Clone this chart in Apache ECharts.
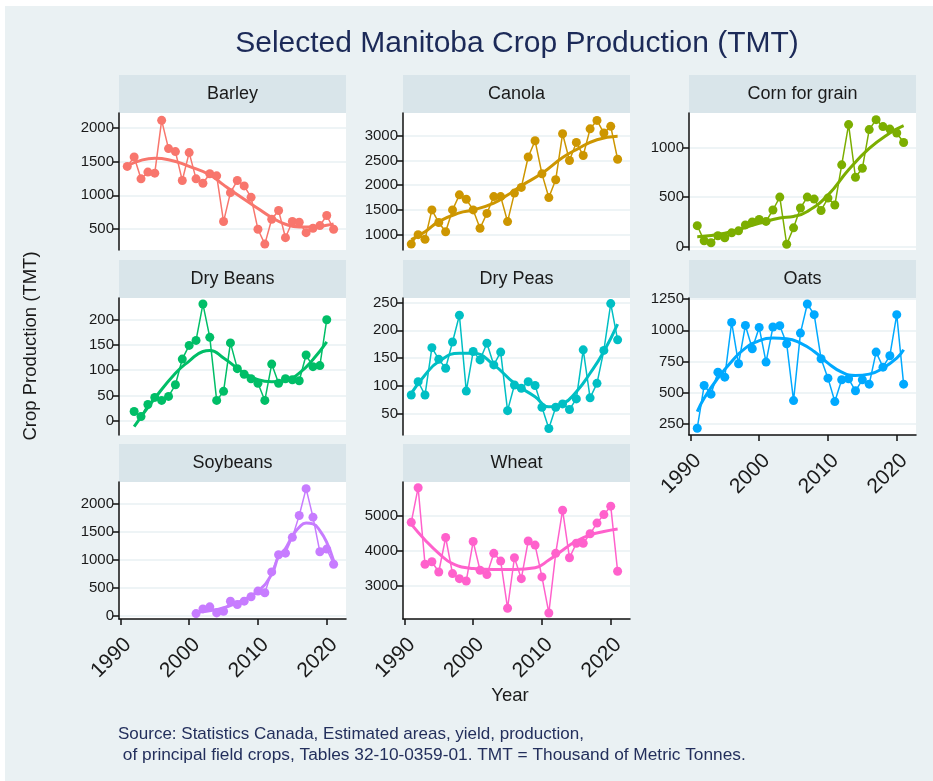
<!DOCTYPE html>
<html>
<head>
<meta charset="utf-8">
<title>Selected Manitoba Crop Production (TMT)</title>
<script src="https://cdn.jsdelivr.net/npm/echarts@6.0.0/dist/echarts.min.js"></script>
<style>
html, body { margin: 0; padding: 0; background: #fff; }
#main { width: 933px; height: 781px; }
</style>
</head>
<body>
<div id="main"></div>
<script>
// facet order, left to right, top to bottom
const crops = ['Barley', 'Canola', 'Corn for grain', 'Dry Beans', 'Dry Peas', 'Oats', 'Soybeans', 'Wheat'];
const cropColors = ['#F8766D', '#CD9600', '#7CAE00', '#00BE67', '#00BFC4', '#00A9FF', '#C77CFF', '#FF61CC'];

const years = [1991, 1992, 1993, 1994, 1995, 1996, 1997, 1998, 1999, 2000, 2001, 2002, 2003, 2004, 2005, 2006,
  2007, 2008, 2009, 2010, 2011, 2012, 2013, 2014, 2015, 2016, 2017, 2018, 2019, 2020, 2021];
const beanYears = [1992, 1993, 1994, 1995, 1996, 1997, 1998, 1999, 2000, 2001, 2002, 2003, 2004, 2005, 2006,
  2007, 2008, 2009, 2010, 2011, 2012, 2013, 2014, 2015, 2016, 2017, 2018, 2019, 2020];
const soyYears = [2001, 2002, 2003, 2004, 2005, 2006, 2007, 2008, 2009, 2010, 2011, 2012, 2013, 2014, 2015, 2016,
  2017, 2018, 2019, 2020, 2021];

// production, thousand tonnes
const barley = [1430, 1570, 1245, 1345, 1330, 2115, 1695, 1650, 1220, 1635, 1245, 1180, 1320, 1290, 610, 1040,
  1220, 1140, 970, 495, 275, 645, 775, 370, 610, 600, 445, 510, 550, 700, 495];
const canola = [810, 1000, 905, 1500, 1245, 1060, 1500, 1805, 1715, 1500, 1130, 1430, 1770, 1770, 1265, 1840,
  1955, 2570, 2900, 2230, 1750, 2110, 3040, 2500, 2865, 2600, 3140, 3310, 3055, 3190, 2525];
const corn = [212, 60, 40, 110, 90, 140, 160, 220, 250, 275, 255, 370, 500, 25, 190, 390,
  500, 480, 365, 490, 420, 825, 1230, 700, 790, 1180, 1280, 1210, 1185, 1145, 1050];
const dryBeans = [18, 8, 32, 46, 40, 48, 71, 122, 149, 159, 231, 165, 40, 58, 154,
  103, 92, 83, 74, 40, 112, 74, 83, 81, 79, 130, 107, 109, 200];
const dryPeas = [84, 108, 84, 169, 148, 132, 179, 227, 91, 162, 147, 177, 138, 161, 56, 102,
  96, 108, 101, 62, 24, 62, 68, 58, 77, 165, 79, 105, 164, 248, 183];
const oats = [218, 559, 490, 666, 626, 1063, 733, 1039, 853, 1023, 746, 1026, 1037, 893, 439, 978,
  1210, 1125, 773, 618, 431, 605, 613, 517, 605, 570, 826, 706, 797, 1125, 570];
const soybeans = [36, 120, 156, 48, 78, 258, 198, 258, 336, 438, 408, 781, 1087, 1117, 1399, 1790,
  2270, 1760, 1141, 1189, 919];
const wheat = [4810, 5795, 3620, 3690, 3400, 4380, 3355, 3210, 3145, 4265, 3450, 3325, 3930, 3710, 2370, 3805,
  3210, 4280, 4165, 3260, 2235, 3930, 5155, 3805, 4215, 4215, 4485, 4790, 5030, 5270, 3420];

// smoothed trend
const barleyTrend = [[1991, 1440], [1993, 1520], [1995, 1550], [1997, 1530], [2000, 1430], [2003, 1305], [2005, 1155],
  [2008, 940], [2010, 805], [2012, 670], [2014, 570], [2016, 530], [2018, 530], [2020, 555], [2021, 575]];
const canolaTrend = [[1991, 900], [1993, 1060], [1995, 1265], [1998, 1440], [2000, 1500], [2003, 1640], [2005, 1800],
  [2007, 1990], [2010, 2240], [2013, 2560], [2015, 2720], [2018, 2920], [2021, 2990]];
const cornTrend = [[1991, 100], [1995, 135], [2000, 235], [2003, 290], [2005, 305], [2007, 355], [2010, 520],
  [2013, 775], [2016, 990], [2019, 1145], [2021, 1220]];
const dryBeansTrend = [[1992, -12], [1995, 44], [1998, 94], [2000, 118], [2002, 137], [2003, 139], [2005, 124],
  [2008, 94], [2010, 81], [2012, 77], [2014, 79], [2016, 94], [2018, 121], [2020, 156]];
const dryPeasTrend = [[1991, 87], [1993, 120], [1995, 144], [1998, 159], [2000, 159], [2003, 138], [2006, 105],
  [2009, 81], [2011, 63], [2013, 68], [2015, 90], [2017, 123], [2019, 162], [2021, 211]];
const oatsTrend = [[1991, 351], [1992, 458], [1994, 618], [1996, 751], [1998, 858], [2000, 917], [2002, 938],
  [2004, 933], [2006, 898], [2008, 831], [2010, 738], [2012, 666], [2014, 639], [2016, 650], [2018, 698],
  [2020, 778], [2021, 845]];
const soybeansTrend = [[2001, 60], [2004, 108], [2007, 228], [2010, 438], [2012, 740], [2013, 1060], [2014, 1200],
  [2015, 1420], [2016, 1580], [2017, 1658], [2018, 1640], [2019, 1520], [2020, 1310], [2021, 980]];
const wheatTrend = [[1991, 4760], [1993, 4310], [1995, 3930], [1997, 3640], [2000, 3500], [2003, 3470], [2006, 3470],
  [2009, 3520], [2011, 3740], [2013, 4020], [2015, 4280], [2017, 4455], [2019, 4550], [2021, 4620]];

// free y scales
const yMins = [187, 690, -33, -28.5, 12.3, 164, -61, 2064];
const yMaxs = [2224, 3460, 1347, 243, 258, 1258, 2389, 5957];
const yTicks = [
  [500, 1000, 1500, 2000],
  [1000, 1500, 2000, 2500, 3000],
  [0, 500, 1000],
  [0, 50, 100, 150, 200],
  [50, 100, 150, 200, 250],
  [250, 500, 750, 1000, 1250],
  [0, 500, 1000, 1500, 2000],
  [3000, 4000, 5000]
];
const xTicks = [1990, 2000, 2010, 2020];

const caption1 = 'Source: Statistics Canada, Estimated areas, yield, production,';
const caption2 = ' of principal field crops, Tables 32-10-0359-01. TMT = Thousand of Metric Tonnes.';

const panelX = [119, 403, 689];
const panelY = [113, 298, 482];
const panelW = 227, panelH = 137, stripH = 38;
const font = "'Liberation Sans', Arial, sans-serif";
const ink = '#1a1a1a';

const points = [
  [years, barley], [years, canola], [years, corn], [beanYears, dryBeans],
  [years, dryPeas], [years, oats], [soyYears, soybeans], [years, wheat]
];
const trends = [barleyTrend, canolaTrend, cornTrend, dryBeansTrend, dryPeasTrend, oatsTrend, soybeansTrend, wheatTrend];
const withX = [5, 6, 7];

const chart = echarts.init(document.getElementById('main'));

const grids = [], xAxes = [], yAxes = [], series = [];
const graphics = [
  { type: 'rect', z: -10, shape: { x: 5, y: 6, width: 928, height: 775 }, style: { fill: '#eaf1f3' } },
  { type: 'text', x: 517, y: 44, style: { text: 'Selected Manitoba Crop Production (TMT)', font: '30px ' + font,
      fill: '#1c2a58', textAlign: 'center', textVerticalAlign: 'middle' } },
  { type: 'text', x: 31, y: 346, rotation: Math.PI / 2, style: { text: 'Crop Production (TMT)', font: '18.5px ' + font,
      fill: ink, textAlign: 'center', textVerticalAlign: 'middle' } },
  { type: 'text', x: 510, y: 696, style: { text: 'Year', font: '18.5px ' + font, fill: ink,
      textAlign: 'center', textVerticalAlign: 'middle' } },
  { type: 'text', x: 118, y: 734, style: { text: caption1, font: '17px ' + font, fill: '#232f5c',
      textVerticalAlign: 'middle' } },
  { type: 'text', x: 118, y: 755, style: { text: caption2, font: '17.3px ' + font, fill: '#232f5c',
      textVerticalAlign: 'middle' } }
];

function plain(v) { return String(v); }

crops.forEach(function (name, i) {
  const col = i % 3, row = Math.floor(i / 3);
  const left = panelX[col], top = panelY[row];
  const showX = withX.indexOf(i) >= 0;

  grids.push({ left: left, top: top, width: panelW, height: panelH, show: true,
    backgroundColor: '#fff', borderWidth: 0, outerBoundsMode: 'none' });

  graphics.push({ type: 'rect', shape: { x: left, y: top - stripH, width: panelW, height: stripH },
    style: { fill: '#d9e5ea' } });
  graphics.push({ type: 'text', x: left + panelW / 2, y: top - stripH / 2, style: { text: name,
    font: '18px ' + font, fill: ink, textAlign: 'center', textVerticalAlign: 'middle' } });

  xAxes.push({
    type: 'value', gridIndex: i, min: 1989.8, max: 2022.8,
    axisLine: { show: showX, onZero: false, lineStyle: { color: '#111', width: 1.5 } },
    axisTick: { show: showX, length: 6, customValues: xTicks, lineStyle: { color: '#111', width: 1.5 } },
    axisLabel: { show: showX, customValues: xTicks, rotate: 45, fontSize: 21, margin: 15,
      verticalAlign: 'top', color: ink, fontFamily: font, formatter: plain },
    splitLine: { show: false }
  });
  yAxes.push({
    type: 'value', gridIndex: i, min: yMins[i], max: yMaxs[i],
    axisLine: { show: true, onZero: false, lineStyle: { color: '#111', width: 1.5 } },
    axisTick: { show: true, length: 6, customValues: yTicks[i], lineStyle: { color: '#111', width: 1.5 } },
    axisLabel: { customValues: yTicks[i], fontSize: 15, margin: 5, color: ink, fontFamily: font, formatter: plain },
    splitLine: { show: true, lineStyle: { color: '#e8f0f3', width: 1.5 } }
  });

  const xs = points[i][0], vals = points[i][1];
  series.push({
    type: 'line', name: name, xAxisIndex: i, yAxisIndex: i,
    data: xs.map(function (y, k) { return [y, vals[k]]; }),
    symbol: 'circle', symbolSize: 9, showSymbol: true,
    lineStyle: { color: cropColors[i], width: 1.5 },
    itemStyle: { color: cropColors[i] }
  });
  series.push({
    type: 'line', name: name + ' trend', xAxisIndex: i, yAxisIndex: i,
    data: trends[i], smooth: true, showSymbol: false, z: 3,
    lineStyle: { color: cropColors[i], width: 3 }
  });
});

chart.setOption({
  animation: false,
  backgroundColor: '#fff',
  grid: grids,
  xAxis: xAxes,
  yAxis: yAxes,
  series: series,
  graphic: graphics
});
</script>
</body>
</html>
